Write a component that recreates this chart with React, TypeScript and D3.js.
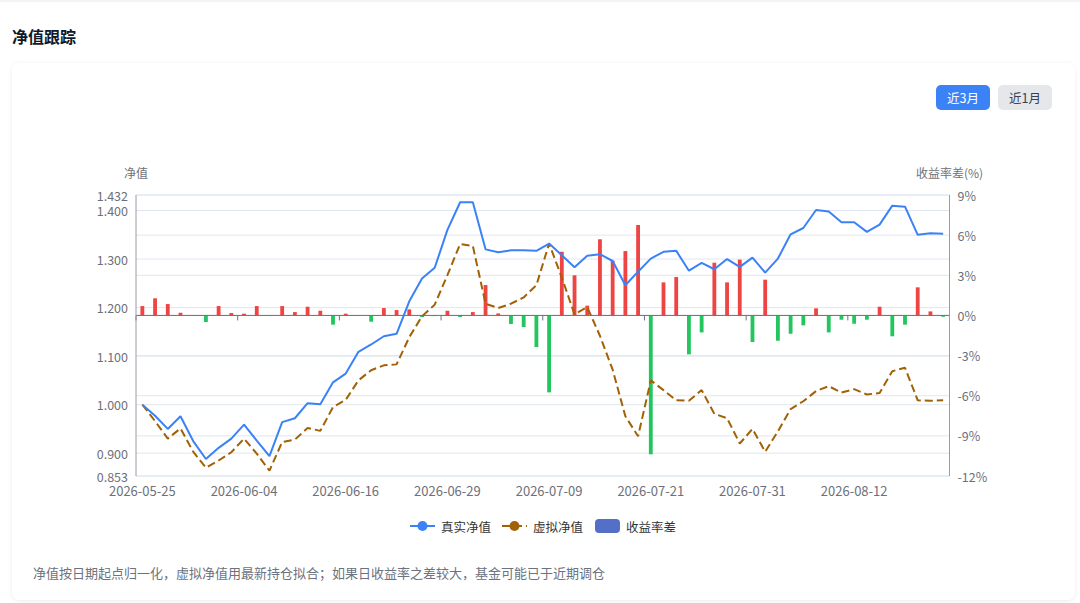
import * as React from 'react'
import * as d3 from 'd3'

const dates = [
  '2026-05-25', '2026-05-26', '2026-05-27', '2026-05-28', '2026-05-29', '2026-06-01', '2026-06-02', '2026-06-03',
  '2026-06-04', '2026-06-05', '2026-06-08', '2026-06-09', '2026-06-10', '2026-06-11', '2026-06-12', '2026-06-15',
  '2026-06-16', '2026-06-17', '2026-06-18', '2026-06-22', '2026-06-23', '2026-06-24', '2026-06-25', '2026-06-26',
  '2026-06-29', '2026-06-30', '2026-07-01', '2026-07-02', '2026-07-03', '2026-07-06', '2026-07-07', '2026-07-08',
  '2026-07-09', '2026-07-10', '2026-07-13', '2026-07-14', '2026-07-15', '2026-07-16', '2026-07-17', '2026-07-20',
  '2026-07-21', '2026-07-22', '2026-07-23', '2026-07-24', '2026-07-27', '2026-07-28', '2026-07-29', '2026-07-30',
  '2026-07-31', '2026-08-03', '2026-08-04', '2026-08-05', '2026-08-06', '2026-08-07', '2026-08-10', '2026-08-11',
  '2026-08-12', '2026-08-13', '2026-08-14', '2026-08-17', '2026-08-18', '2026-08-19', '2026-08-20', '2026-08-21',
]

// 真实净值
const realNav = [
  1.0, 0.977, 0.95, 0.976, 0.925, 0.888, 0.911, 0.93, 0.959, 0.926,
  0.894, 0.964, 0.972, 1.003, 1.001, 1.046, 1.064, 1.109, 1.124, 1.141,
  1.146, 1.213, 1.26, 1.282, 1.36, 1.417, 1.417, 1.32, 1.314, 1.318,
  1.318, 1.317, 1.332, 1.308, 1.283, 1.307, 1.31, 1.296, 1.246, 1.274,
  1.301, 1.315, 1.317, 1.276, 1.292, 1.279, 1.3, 1.284, 1.303, 1.272,
  1.301, 1.351, 1.364, 1.401, 1.398, 1.376, 1.376, 1.356, 1.371, 1.41,
  1.408, 1.35, 1.353, 1.352,
]

// 虚拟净值
const virtualNav = [
  1.0, 0.966, 0.93, 0.951, 0.903, 0.87, 0.885, 0.902, 0.93, 0.899,
  0.864, 0.923, 0.928, 0.952, 0.946, 0.995, 1.01, 1.05, 1.071, 1.081,
  1.083, 1.139, 1.182, 1.206, 1.267, 1.331, 1.327, 1.208, 1.199, 1.208,
  1.221, 1.246, 1.332, 1.262, 1.186, 1.201, 1.142, 1.072, 0.976, 0.935,
  1.05, 1.03, 1.009, 1.008, 1.03, 0.981, 0.972, 0.92, 0.95, 0.903,
  0.945, 0.991, 1.007, 1.028, 1.038, 1.025, 1.032, 1.021, 1.024, 1.069,
  1.076, 1.009, 1.008, 1.009,
]

// 收益率差 (%)
const returnDiff = [
  0.7, 1.28, 0.85, 0.2, 0.03, -0.49, 0.7, 0.18, 0.13, 0.7,
  0.03, 0.7, 0.25, 0.65, 0.35, -0.69, 0.13, 0.03, -0.47, 0.55,
  0.4, 0.45, -0.12, -0.05, 0.35, -0.12, 0.25, 2.27, 0.15, -0.64,
  -0.87, -2.36, -5.75, 4.76, 3.0, 0.73, 5.69, 4.09, 4.81, 6.76,
  -10.38, 2.47, 2.87, -2.91, -1.27, 3.94, 2.47, 4.17, -1.99, 2.67,
  -1.89, -1.37, -0.74, 0.53, -1.27, -0.32, -0.62, -0.32, 0.65, -1.56,
  -0.69, 2.1, 0.3, -0.1,
]

const navTicks = [0.853, 0.9, 1.0, 1.1, 1.2, 1.3, 1.4, 1.432]
const diffTicks = [-12, -9, -6, -3, 0, 3, 6, 9]
const legendItems = ['真实净值', '虚拟净值', '收益率差']

const FONT = '"Noto Sans CJK SC", "Noto Sans", sans-serif'
const W = 1080
const H = 603
const BLUE = '#3b82f6'
const BROWN = '#a16207'
const RED = '#ef4444'
const GREEN = '#22c55e'
const LABEL = '#6e7079'
const SPLIT = '#e0e6f1'

export default function App() {
  const svgRef = React.useRef<SVGSVGElement>(null)

  React.useEffect(() => {
    if (!svgRef.current) return
    const svg = d3.select(svgRef.current)
    svg.selectAll('*').remove()

    const left = 136
    const right = 949.5
    const top = 195
    const bottom = 476

    // page chrome
    const defs = svg.append('defs')
    const f = defs.append('filter').attr('id', 'cardShadow').attr('x', '-5%').attr('y', '-5%').attr('width', '110%').attr('height', '110%')
    f.append('feDropShadow').attr('dx', 0).attr('dy', 1).attr('stdDeviation', 2).attr('flood-color', '#000').attr('flood-opacity', 0.08)

    svg.append('rect').attr('width', W).attr('height', H).attr('fill', '#fff')
    svg.append('line').attr('x1', 0).attr('x2', W).attr('y1', 1).attr('y2', 1).attr('stroke', '#e5e7eb')

    svg.append('text')
      .attr('x', 12)
      .attr('y', 36)
      .attr('dominant-baseline', 'central')
      .attr('font-size', '16px')
      .attr('font-weight', 700)
      .attr('fill', '#111827')
      .text('净值跟踪')

    svg.append('rect')
      .attr('x', 12)
      .attr('y', 63)
      .attr('width', 1063)
      .attr('height', 537)
      .attr('rx', 8)
      .attr('fill', '#fff')
      .attr('filter', 'url(#cardShadow)')

    // range buttons
    const buttons = [
      { label: '近3月', x: 936, bg: BLUE, fg: '#fff' },
      { label: '近1月', x: 998, bg: '#e5e7eb', fg: '#374151' },
    ]
    buttons.forEach((b) => {
      svg.append('rect').attr('x', b.x).attr('y', 85).attr('width', 54).attr('height', 25).attr('rx', 5).attr('fill', b.bg)
      svg.append('text')
        .attr('x', b.x + 27)
        .attr('y', 97.5)
        .attr('text-anchor', 'middle')
        .attr('dominant-baseline', 'central')
        .attr('font-size', '12.5px')
        .attr('fill', b.fg)
        .text(b.label)
    })

    const x = d3.scaleBand<string>().domain(dates).range([left, right]).padding(0)
    const bw = x.bandwidth()
    const cx = (i: number) => (x(dates[i]) ?? 0) + bw / 2
    const yNav = d3.scaleLinear().domain([navTicks[0], navTicks[navTicks.length - 1]]).range([bottom, top])
    const yDiff = d3.scaleLinear().domain([diffTicks[0], diffTicks[diffTicks.length - 1]]).range([bottom, top])

    const g = svg.append('g')

    // split lines from both axes
    navTicks.forEach((t) => {
      g.append('line').attr('x1', left).attr('x2', right).attr('y1', yNav(t)).attr('y2', yNav(t)).attr('stroke', SPLIT)
    })
    diffTicks.forEach((t) => {
      g.append('line').attr('x1', left).attr('x2', right).attr('y1', yDiff(t)).attr('y2', yDiff(t)).attr('stroke', SPLIT)
    })

    // bars
    const barW = bw * 0.3
    returnDiff.forEach((v, i) => {
      const y0 = yDiff(0)
      const y1 = yDiff(v)
      g.append('rect')
        .attr('x', cx(i) - barW / 2)
        .attr('y', Math.min(y0, y1))
        .attr('width', barW)
        .attr('height', Math.abs(y1 - y0))
        .attr('fill', v >= 0 ? RED : GREEN)
    })

    // category axis on the zero line
    const y0 = yDiff(0)
    g.append('line').attr('x1', left).attr('x2', right).attr('y1', y0).attr('y2', y0).attr('stroke', LABEL)
    for (let i = 0; i <= dates.length; i += 8) {
      const tx = left + i * bw
      g.append('line').attr('x1', tx).attr('x2', tx).attr('y1', y0).attr('y2', y0 + 5).attr('stroke', LABEL)
    }
    dates.forEach((d, i) => {
      if (i % 8 !== 0) return
      g.append('text')
        .attr('x', cx(i))
        .attr('y', 490)
        .attr('text-anchor', 'middle')
        .attr('dominant-baseline', 'central')
        .attr('font-size', '13px')
        .attr('fill', LABEL)
        .text(d)
    })

    // value axes
    g.append('line').attr('x1', left).attr('x2', left).attr('y1', top).attr('y2', bottom).attr('stroke', '#9a9ca3')
    g.append('line').attr('x1', right).attr('x2', right).attr('y1', top).attr('y2', bottom).attr('stroke', '#9a9ca3')
    navTicks.forEach((t) => {
      g.append('text')
        .attr('x', left - 8)
        .attr('y', yNav(t))
        .attr('text-anchor', 'end')
        .attr('dominant-baseline', 'central')
        .attr('font-size', '12.5px')
        .attr('fill', LABEL)
        .text(t.toFixed(3))
    })
    diffTicks.forEach((t) => {
      g.append('text')
        .attr('x', right + 8)
        .attr('y', yDiff(t))
        .attr('dominant-baseline', 'central')
        .attr('font-size', '12.5px')
        .attr('fill', LABEL)
        .text(`${t}%`)
    })
    g.append('text').attr('x', left).attr('y', 172).attr('text-anchor', 'middle').attr('dominant-baseline', 'central')
      .attr('font-size', '12px').attr('fill', LABEL).text('净值')
    g.append('text').attr('x', right).attr('y', 172).attr('text-anchor', 'middle').attr('dominant-baseline', 'central')
      .attr('font-size', '12px').attr('fill', LABEL).text('收益率差(%)')

    // lines
    const line = d3
      .line<number>()
      .x((_, i) => cx(i))
      .y((d) => yNav(d))

    g.append('path')
      .datum(virtualNav)
      .attr('d', line)
      .attr('fill', 'none')
      .attr('stroke', BROWN)
      .attr('stroke-width', 2)
      .attr('stroke-dasharray', '8 4')
      .attr('stroke-linejoin', 'bevel')

    g.append('path')
      .datum(realNav)
      .attr('d', line)
      .attr('fill', 'none')
      .attr('stroke', BLUE)
      .attr('stroke-width', 2)
      .attr('stroke-linejoin', 'bevel')

    // legend
    const ly = 526
    const lx = [410, 502, 595]
    const lcol = [BLUE, BROWN, '#5470c6']
    legendItems.forEach((name, i) => {
      const sx = lx[i]
      if (i < 2) {
        g.append('line')
          .attr('x1', sx)
          .attr('x2', sx + 25)
          .attr('y1', ly)
          .attr('y2', ly)
          .attr('stroke', lcol[i])
          .attr('stroke-width', 2)
          .attr('stroke-dasharray', i === 1 ? '8 4' : null)
        g.append('circle').attr('cx', sx + 12.5).attr('cy', ly).attr('r', 5).attr('fill', lcol[i])
      } else {
        g.append('rect').attr('x', sx).attr('y', ly - 7).attr('width', 25).attr('height', 14).attr('rx', 4).attr('fill', lcol[i])
      }
      g.append('text')
        .attr('x', sx + 31)
        .attr('y', ly)
        .attr('dominant-baseline', 'central')
        .attr('font-size', '12.5px')
        .attr('fill', '#333')
        .text(name)
    })

    svg.append('text')
      .attr('x', 33)
      .attr('y', 572)
      .attr('dominant-baseline', 'central')
      .attr('font-size', '13px')
      .attr('fill', '#6b7280')
      .text('净值按日期起点归一化，虚拟净值用最新持仓拟合；如果日收益率之差较大，基金可能已于近期调仓')
  }, [])

  return (
    <svg
      ref={svgRef}
      width={W}
      height={H}
      viewBox={`0 0 ${W} ${H}`}
      fontFamily={FONT}
      style={{ position: 'absolute', left: 0, top: 0, display: 'block' }}
    />
  )
}
